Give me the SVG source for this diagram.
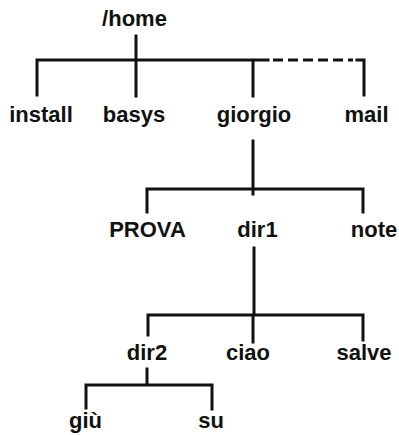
<svg xmlns="http://www.w3.org/2000/svg" width="399" height="435" viewBox="0 0 399 435">
<style>
text{font-family:"Liberation Sans",Arial,sans-serif;font-weight:bold;font-size:22px;fill:#111;text-anchor:middle}
.l{stroke:#111;stroke-width:3;fill:none;stroke-linecap:square}
.d{stroke-dasharray:10,5;stroke-linecap:butt}
</style>
<rect width="399" height="435" fill="#fff"/>
<g id="connectors">
<path class="l" d="M136,36V96M37,95V60H268M253,60V96M253,141V189M147,212V189H363V212M253,189V194"/>
<path class="l d" d="M273,60H353"/>
<path class="l" d="M357,60H364V95"/>
<path class="l" d="M254,248V315M148,335V315H363V340M253,315V342M147,369V385M86,408V385H212V409"/>
</g>
<g id="home"><text x="134.5" y="26">/home</text></g>
<g id="install"><text x="41" y="122">install</text></g>
<g id="basys"><text x="134" y="122">basys</text></g>
<g id="giorgio"><text x="254" y="122">giorgio</text></g>
<g id="mail"><text x="366.5" y="122">mail</text></g>
<g id="PROVA"><text x="147.5" y="237">PROVA</text></g>
<g id="dir1"><text x="257.5" y="237">dir1</text></g>
<g id="note"><text x="374" y="237">note</text></g>
<g id="dir2"><text x="147" y="360">dir2</text></g>
<g id="ciao"><text x="248" y="360">ciao</text></g>
<g id="salve"><text x="364" y="360">salve</text></g>
<g id="giu"><text x="85.5" y="428">giù</text></g>
<g id="su"><text x="211" y="428">su</text></g>
</svg>
